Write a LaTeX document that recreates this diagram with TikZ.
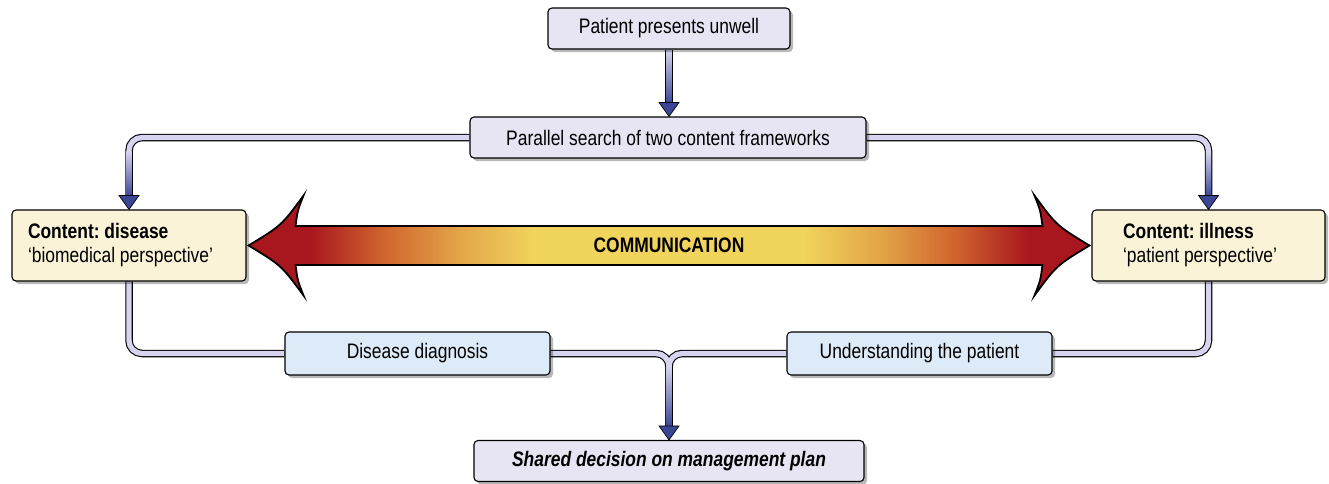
\documentclass[tikz,border=0pt]{standalone}
\usepackage{fontspec}
\setmainfont{Liberation Sans}[FakeStretch=0.83]
\usetikzlibrary{shadows,calc}
\pgfdeclarelayer{background}
\pgfsetlayers{background,main}
\definecolor{boxlav}{HTML}{E7E5F4}
\definecolor{boxcream}{HTML}{FAF3D8}
\definecolor{boxblue}{HTML}{DDEAF8}
\definecolor{pipe}{HTML}{D6D4EE}
\definecolor{pipedark}{HTML}{3B4795}
\definecolor{cred}{HTML}{A8161E}
\definecolor{corange}{HTML}{D0642E}
\definecolor{camber}{HTML}{E3A548}
\definecolor{cyellow}{HTML}{F0D45C}
\pgfdeclarehorizontalshading{commshade}{100bp}{color(0bp)=(cred); color(28.6bp)=(cred); color(33bp)=(corange); color(37.5bp)=(camber); color(42bp)=(cyellow); color(58bp)=(cyellow); color(62.5bp)=(camber); color(67bp)=(corange); color(71.4bp)=(cred); color(100bp)=(cred)}
\frenchspacing
\begin{document}
\begin{tikzpicture}[x=1pt,y=-1pt,
  box/.style={draw=black, line width=1.1pt, rounded corners=4pt, inner sep=0pt,
    font=\fontsize{21}{24}\selectfont,
    drop shadow={shadow xshift=3pt,shadow yshift=-3pt,fill=black,opacity=0.28}},
  lavbox/.style={box, fill=boxlav},
  creambox/.style={box, fill=boxcream, align=flush left, minimum height=71pt},
  bluebox/.style={box, fill=boxblue},
  pipeout/.style={draw=black, line width=7.5pt, rounded corners=13pt},
  pipein/.style={draw=pipe, line width=5.3pt, rounded corners=13pt},
  headtip/.style={fill=pipedark, draw=black, line width=0.7pt, line join=miter},
  bigarrow/.style={shading=commshade, draw=black, line width=1.8pt, line join=miter}
]
\useasboundingbox (0,0) rectangle (1329,483);

% nodes
\node[lavbox, minimum width=242pt, minimum height=41pt] (tp) at (669,28.5) {Patient presents unwell};
\node[lavbox, minimum width=396pt, minimum height=41pt] (par) at (668,137.5) {Parallel search of two content frameworks};
\node[creambox, text width=202pt, inner xsep=16pt] (cd) at (129,245.5) {\spaceskip=0pt\xspaceskip=0pt\textbf{Content: disease}\\‘biomedical perspective’};
\node[creambox, text width=171pt, inner xsep=31pt] (cr) at (1208.5,245.5) {\spaceskip=0pt\xspaceskip=0pt\textbf{Content: illness}\\‘patient perspective’};
\node[bluebox, minimum width=265pt, minimum height=43pt] (dd) at (417.5,353.5) {Disease diagnosis};
\node[bluebox, minimum width=265pt, minimum height=43pt] (ud) at (919.5,353.5) {Understanding the patient};
\node[lavbox, minimum width=390pt, minimum height=41pt] (sh) at (669,461) {\textbf{\textit{Shared decision on management plan}}};

% arrow tip coordinates
\coordinate (h1) at (tp.south |- par.north);
\coordinate (h2) at (cd.north);
\coordinate (h3) at (cr.north);
\coordinate (h4) at (sh.north);

% pipes behind the boxes
\begin{pgfonlayer}{background}
\draw[pipeout] (tp.south) -- ($(h1)+(0,-13)$);
\draw[pipeout] (par.west) -| ($(h2)+(0,-13)$);
\draw[pipeout] (par.east) -| ($(h3)+(0,-13)$);
\draw[pipeout] (cd.south) |- (dd.west);
\draw[pipeout] (cr.south) |- (ud.east);
\draw[pipeout] (dd.east) -| ($(h4)+(0,-13)$);
\draw[pipeout] (ud.west) -| ($(h4)+(0,-13)$);
\draw[pipein] (tp.south) -- ($(h1)+(0,-13)$);
\draw[pipein] (par.west) -| ($(h2)+(0,-13)$);
\draw[pipein] (par.east) -| ($(h3)+(0,-13)$);
\draw[pipein] (cd.south) |- (dd.west);
\draw[pipein] (cr.south) |- (ud.east);
\draw[pipein] (dd.east) -| ($(h4)+(0,-13)$);
\draw[pipein] (ud.west) -| ($(h4)+(0,-13)$);
% gradients towards the arrow heads
\shade[top color=pipe, bottom color=pipedark] ($(tp.south)+(-2.65,0)$) rectangle ($(h1)+(2.65,-13)$);
\shade[top color=pipe, bottom color=pipedark] ($(h2)+(-2.65,-58)$) rectangle ($(h2)+(2.65,-13)$);
\shade[top color=pipe, bottom color=pipedark] ($(h3)+(-2.65,-58)$) rectangle ($(h3)+(2.65,-13)$);
\shade[top color=pipe, bottom color=pipedark] ($(h4)+(-2.65,-74)$) rectangle ($(h4)+(2.65,-13)$);
% heads
\foreach \h in {h1,h2,h3,h4}{
  \filldraw[headtip] ($(\h)+(-10,-14)$) -- (\h) -- ($(\h)+(10,-14)$) -- cycle;
}
\end{pgfonlayer}

% communication double arrow
\coordinate (aL) at ($(cd.east)+(2,0)$);
\coordinate (aR) at ($(cr.west)+(-2,0)$);
\shade[bigarrow] (aL)
  .. controls ($(aL)+(33,-20)$) .. ($(aL)+(55,-50)$)
  .. controls ($(aL)+(49,-35)$) .. ($(aL)+(47,-19.5)$)
  -- ($(aR)+(-47,-19.5)$)
  .. controls ($(aR)+(-49,-35)$) .. ($(aR)+(-55,-50)$)
  .. controls ($(aR)+(-33,-20)$) .. (aR)
  .. controls ($(aR)+(-33,20)$) .. ($(aR)+(-55,50)$)
  .. controls ($(aR)+(-49,35)$) .. ($(aR)+(-47,19.5)$)
  -- ($(aL)+(47,19.5)$)
  .. controls ($(aL)+(49,35)$) .. ($(aL)+(55,50)$)
  .. controls ($(aL)+(33,20)$) .. (aL) -- cycle;
\node[font=\fontsize{21}{24}\selectfont\bfseries] (comm) at ($(aL)!0.5!(aR)$) {COMMUNICATION};
\end{tikzpicture}
\end{document}
